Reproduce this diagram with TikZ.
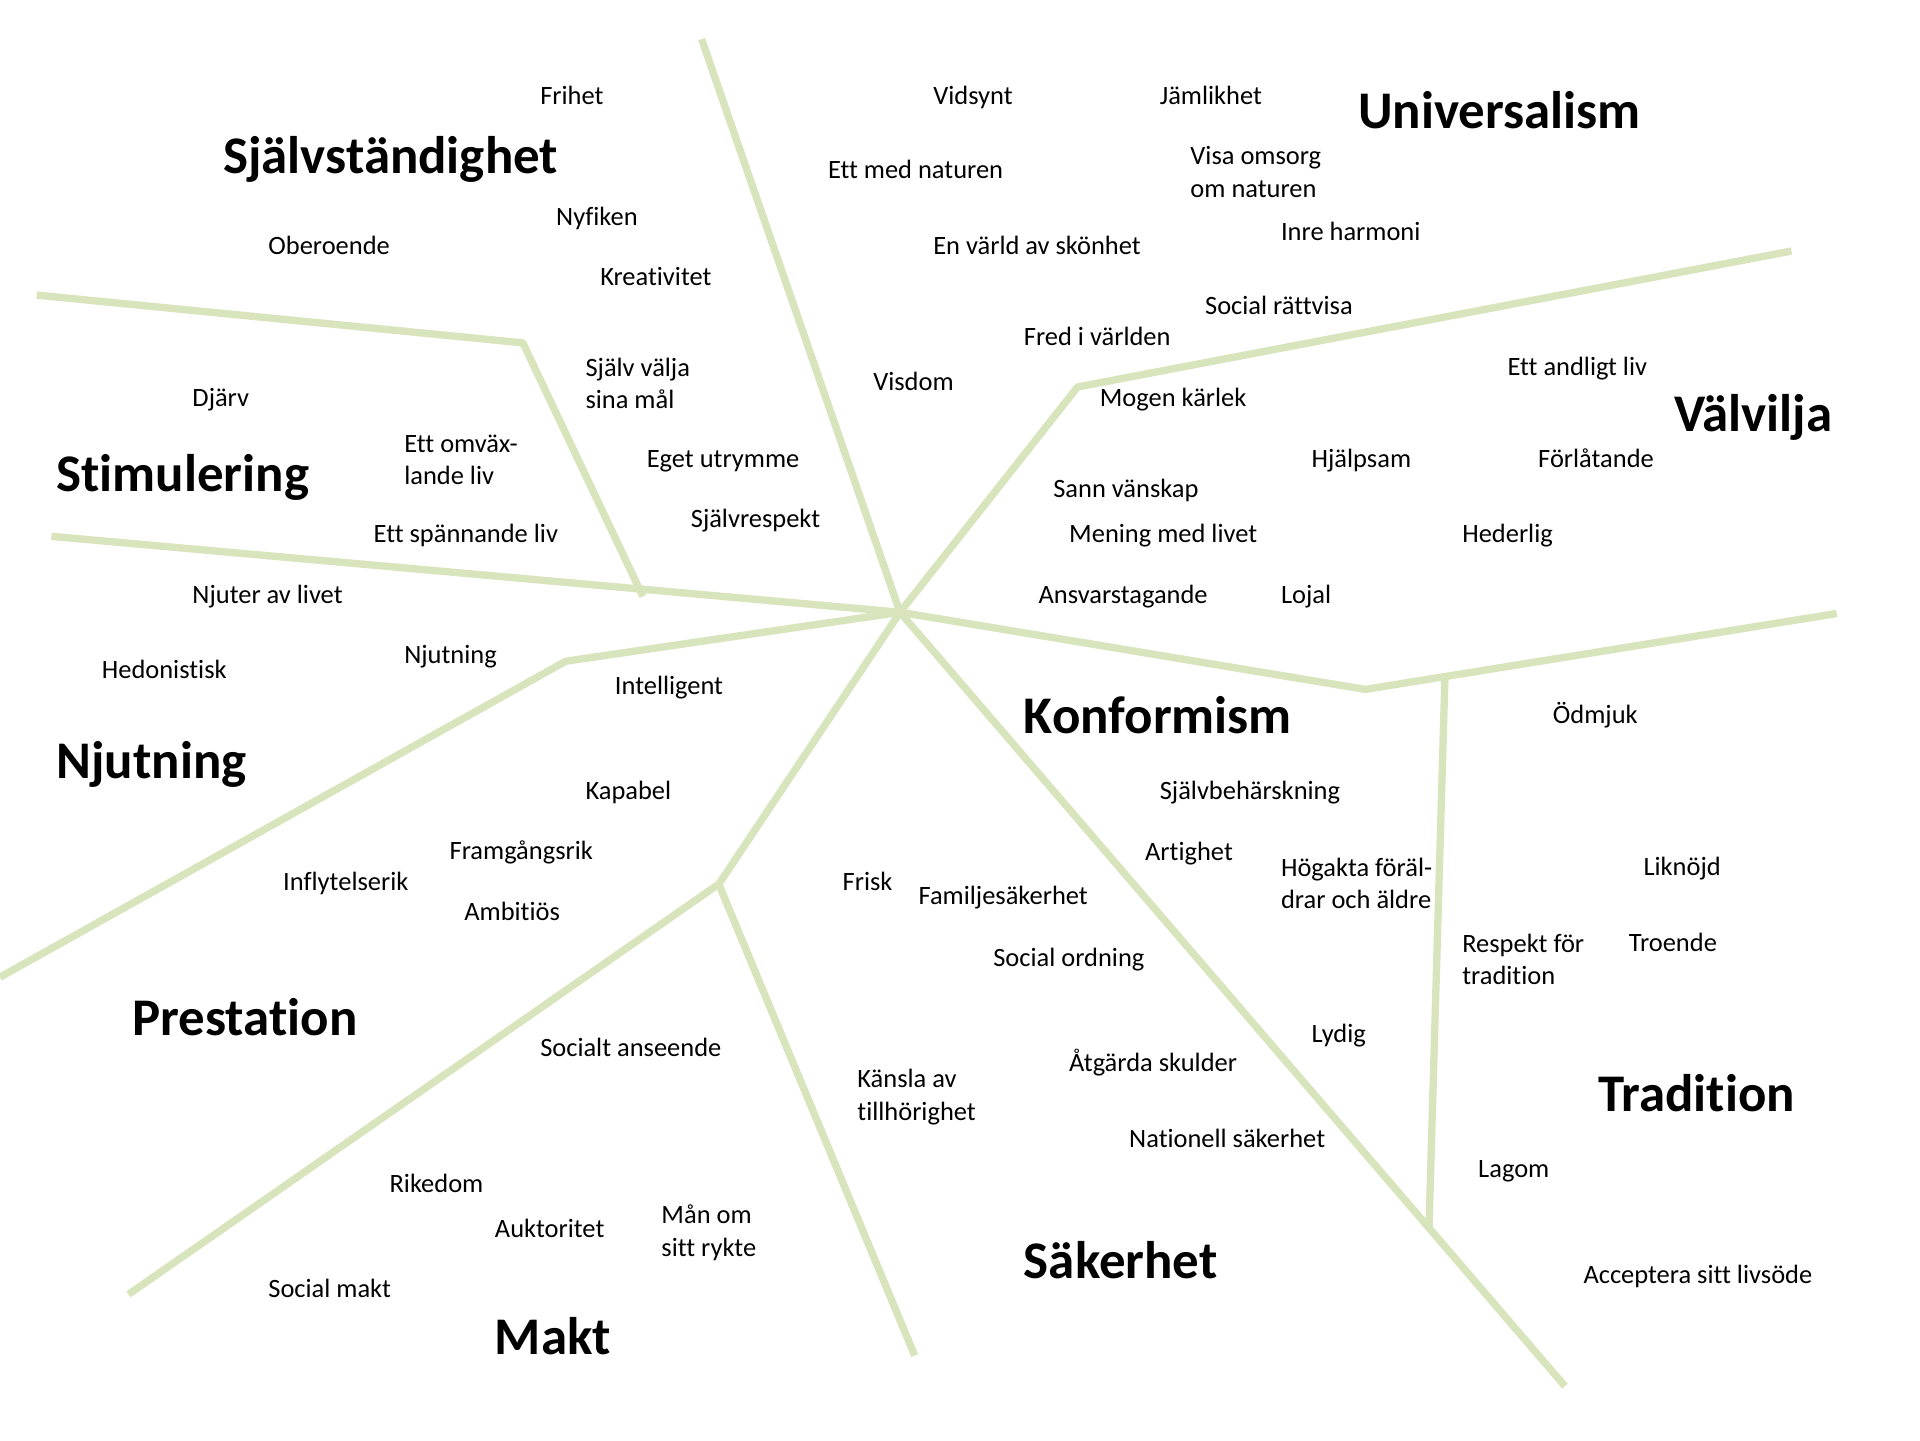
\documentclass[tikz,border=0pt]{standalone}
\usepackage{fontspec}
\setmainfont{Carlito}[Ligatures=NoCommon]
\definecolor{lgreen}{HTML}{D8E4BC}
\begin{document}
\begin{tikzpicture}[x=1pt,y=-1pt,
  sep/.style={draw=lgreen,line width=6pt,line join=round},
  lbl/.style={anchor=base west,inner sep=0pt,align=left,font=\fontsize{21.6}{26.5}\selectfont},
  head/.style={anchor=base west,inner sep=0pt,font=\bfseries\fontsize{43.2}{50}\selectfont}]
\useasboundingbox[fill=white] (0,0) rectangle (1568,1176);
% junctions
\coordinate (c) at (735,500);
\coordinate (t1) at (573,32);
\coordinate (j2) at (880,316); \coordinate (e2) at (1463,205);
\coordinate (j3) at (1115,563); \coordinate (e3) at (1500,501);
\coordinate (e4) at (1278,1132);
\coordinate (v1) at (1180,554); \coordinate (v2) at (1167,1003);
\coordinate (j5) at (587,722); \coordinate (e5a) at (105,1057); \coordinate (e5b) at (747,1107);
\coordinate (j6) at (462,540); \coordinate (e6) at (0,798);
\coordinate (e7) at (42,438);
\coordinate (b1) at (525,487); \coordinate (b2) at (427,280); \coordinate (b3) at (30,241);
\draw[sep] (t1) -- (c);
\draw[sep] (c) -- (j2) -- (e2);
\draw[sep] (c) -- (j3) -- (e3);
\draw[sep] (c) -- (e4);
\draw[sep] (v1) -- (v2);
\draw[sep] (c) -- (j5) -- (e5a);
\draw[sep] (j5) -- (e5b);
\draw[sep] (c) -- (j6) -- (e6);
\draw[sep] (e7) -- (c);
\draw[sep] (b1) -- (b2) -- (b3);
% headings
\node[head] (h1) at (182,142) {Självständighet};
\node[head] (h2) at (46,401) {Stimulering};
\node[head] (h3) at (46,636) {Njutning};
\node[head] (h4) at (108,846) {Prestation};
\node[head] (h5) at (404,1106) {Makt};
\node[head] (h6) at (836,1044) {Säkerhet};
\node[head] (h7) at (836,599) {Konformism};
\node[head] (h8) at (1305,908) {Tradition};
\node[head] (h9) at (1367,352) {Välvilja};
\node[head] (h10) at (1109,105) {Universalism};
% labels
\node[lbl] (a1) at (441,85) {Frihet};
\node[lbl] (a2) at (454,184) {Nyfiken};
\node[lbl] (a3) at (219,208) {Oberoende};
\node[lbl] (a4) at (490,233) {Kreativitet};
\node[lbl] (a5) at (478,334) {Själv välja\\sina mål};
\node[lbl] (a6) at (157,332) {Djärv};
\node[lbl] (a7) at (330,396) {Ett omväx-\\lande liv};
\node[lbl] (a8) at (528,382) {Eget utrymme};
\node[lbl] (a9) at (564,431) {Självrespekt};
\node[lbl] (a10) at (305,443) {Ett spännande liv};
\node[lbl] (a11) at (157,493) {Njuter av livet};
\node[lbl] (a12) at (330,542) {Njutning};
\node[lbl] (a13) at (83,554) {Hedonistisk};
\node[lbl] (a14) at (502,567) {Intelligent};
\node[lbl] (a15) at (478,653) {Kapabel};
\node[lbl] (a16) at (367,702) {Framgångsrik};
\node[lbl] (a17) at (231,727) {Inflytelserik};
\node[lbl] (a18) at (379,752) {Ambitiös};
\node[lbl] (a19) at (441,863) {Socialt anseende};
\node[lbl] (a20) at (318,974) {Rikedom};
\node[lbl] (a21) at (404,1011) {Auktoritet};
\node[lbl] (a22) at (540,1026) {Mån om\\sitt rykte};
\node[lbl] (a23) at (219,1060) {Social makt};
\node[lbl] (a24) at (688,727) {Frisk};
\node[lbl] (a25) at (750,739) {Familjesäkerhet};
\node[lbl] (a26) at (811,789) {Social ordning};
\node[lbl] (a27) at (700,915) {Känsla av\\tillhörighet};
\node[lbl] (a28) at (873,875) {Åtgärda skulder};
\node[lbl] (a29) at (922,937) {Nationell säkerhet};
\node[lbl] (a30) at (947,653) {Självbehärskning};
\node[lbl] (a31) at (935,703) {Artighet};
\node[lbl] (a32) at (1046,742) {Högakta föräl-\\drar och äldre};
\node[lbl] (a33) at (1071,851) {Lydig};
\node[lbl] (a34) at (1268,591) {Ödmjuk};
\node[lbl] (a35) at (1342,715) {Liknöjd};
\node[lbl] (a36) at (1194,804) {Respekt för\\tradition};
\node[lbl] (a37) at (1330,777) {Troende};
\node[lbl] (a38) at (1207,962) {Lagom};
\node[lbl] (a39) at (1293,1048) {Acceptera sitt livsöde};
\node[lbl] (a40) at (762,85) {Vidsynt};
\node[lbl] (a41) at (947,85) {Jämlikhet};
\node[lbl] (a42) at (676,146) {Ett med naturen};
\node[lbl] (a43) at (972,161) {Visa omsorg\\om naturen};
\node[lbl] (a44) at (1046,196) {Inre harmoni};
\node[lbl] (a45) at (762,208) {En värld av skönhet};
\node[lbl] (a46) at (984,257) {Social rättvisa};
\node[lbl] (a47) at (836,282) {Fred i världen};
\node[lbl] (a48) at (713,319) {Visdom};
\node[lbl] (a49) at (898,332) {Mogen kärlek};
\node[lbl] (a50) at (1231,307) {Ett andligt liv};
\node[lbl] (a51) at (1071,382) {Hjälpsam};
\node[lbl] (a52) at (1256,382) {Förlåtande};
\node[lbl] (a53) at (860,406) {Sann vänskap};
\node[lbl] (a54) at (873,443) {Mening med livet};
\node[lbl] (a55) at (1194,443) {Hederlig};
\node[lbl] (a56) at (848,493) {Ansvarstagande};
\node[lbl] (a57) at (1046,493) {Lojal};
\end{tikzpicture}
\end{document}
